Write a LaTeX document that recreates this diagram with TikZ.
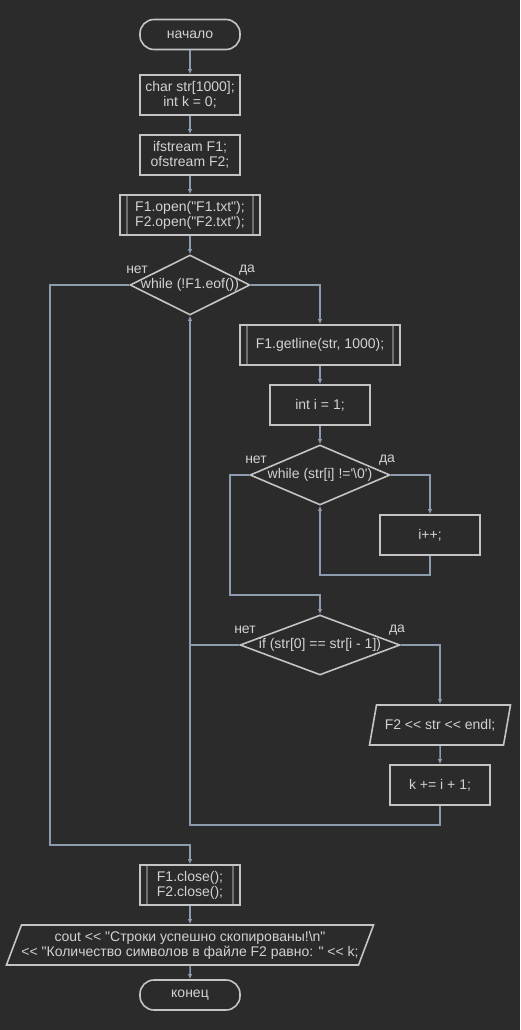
\documentclass[tikz,border=0pt]{standalone}
\usepackage{fontspec}
\setmainfont{Liberation Sans}[Ligatures=TeXOff]
\usetikzlibrary{shapes.geometric,arrows.meta}

\definecolor{bgcol}{HTML}{2B2B2B}
\definecolor{boxcol}{HTML}{C4C4C4}
\definecolor{txtcol}{HTML}{D2D2D2}
\definecolor{wirecol}{HTML}{8C9BAE}
\definecolor{sidecol}{HTML}{707070}

\tikzset{
	every node/.style={font=\fontsize{14}{15}\selectfont, text=txtcol},
	block/.style={draw=boxcol, line width=1.6pt, minimum width=100pt, minimum height=40pt, align=center, inner sep=2pt},
	termbox/.style={block, rounded corners=14pt, minimum height=30pt},
	subbox/.style={block, path picture={
		\draw[sidecol, line width=1.4pt] ([xshift=7pt]path picture bounding box.north west) -- ([xshift=7pt]path picture bounding box.south west);
		\draw[sidecol, line width=1.4pt] ([xshift=-7pt]path picture bounding box.north east) -- ([xshift=-7pt]path picture bounding box.south east);}},
	decision/.style={diamond, draw=boxcol, line width=1.6pt, minimum height=60pt, inner sep=0pt},
	iobox/.style={trapezium, trapezium left angle=63.4, trapezium right angle=116.6, trapezium stretches body,
		draw=boxcol, line width=1.6pt, minimum height=40pt, inner xsep=0pt, inner ysep=1pt, align=center},
	wire/.style={draw=wirecol, line width=1.5pt},
	flow/.style={wire, -{Latex[length=5pt,width=4.5pt]}}
}

\begin{document}
\begin{tikzpicture}[x=1pt, y=-1pt]
	\fill[bgcol] (0,0) rectangle (520,1030);
	\useasboundingbox (0,0) rectangle (520,1030);

	% main column
	\node[termbox] (start) at (190,34.5) {начало};
	\node[block] (decl) at (190,95) {char str[1000];\\int k = 0;};
	\node[block] (files) at (190,155) {ifstream F1;\\ofstream F2;};
	\node[subbox, minimum width=140pt] (open) at (190,215) {F1.open("F1.txt");\\F2.open("F2.txt");};
	\node[decision, minimum width=120pt] (loop) at (190,285) {\makebox[0pt]{while (!F1.eof())}};

	% loop body
	\node[subbox, minimum width=160pt] (getl) at (320,345) {F1.getline(str, 1000);};
	\node[block] (initI) at (320,405) {int i = 1;};
	\node[decision, minimum width=140pt] (inner) at (320,475) {\makebox[0pt]{while (str[i] !='\textbackslash 0')}};
	\node[block] (incr) at (430,535) {i++;};
	\node[decision, minimum width=160pt] (cond) at (320,645) {\makebox[0pt]{if (str[0] == str[i - 1])}};
	\node[iobox, minimum width=141pt] (out2) at (440,725) {F2 << str << endl;};
	\node[block] (kinc) at (440,785) {k += i + 1;};

	% after the loop
	\node[subbox] (close) at (190,885) {F1.close();\\F2.close();};
	\node[iobox, minimum width=362pt] (outmsg) at (190,945) {cout << "Строки успешно скопированы!\textbackslash n"\\<< "Количество символов в файле F2 равно: " << k;};
	\node[termbox] (stop) at (190,995) {конец};

	% branch labels
	\node (loopNo) at (137,270) {нет};
	\node (loopYes) at (247,270) {да};
	\node (innerNo) at (256,460) {нет};
	\node (innerYes) at (387,460) {да};
	\node (condNo) at (245,630) {нет};
	\node (condYes) at (397,630) {да};

	% bends
	\coordinate (exitL) at (50,845);
	\coordinate (incrBack) at (320,575);
	\coordinate (innerExit) at (230,595);
	\coordinate (loopBack) at (190,825);

	\draw[flow] (start) -- (decl);
	\draw[flow] (decl) -- (files);
	\draw[flow] (files) -- (open);
	\draw[flow] (open) -- (loop);
	\draw[flow] (loop.east) -| (getl.north);
	\draw[flow] (getl) -- (initI);
	\draw[flow] (initI) -- (inner);
	\draw[flow] (inner.east) -| (incr.north);
	\draw[flow] (incr.south) |- (incrBack) -- (inner.south);
	\draw[flow] (inner.west) -| (innerExit) -| (cond.north);
	\draw[wire] (cond.west) -- (cond.west -| loop.south);
	\draw[flow] (cond.east) -| (out2.north);
	\draw[flow] (out2) -- (kinc);
	\draw[flow] (kinc.south) |- (loopBack) -- (loop.south);
	\draw[flow] (loop.west) -| (exitL) -| (close.north);
	\draw[flow] (close) -- (outmsg);
	\draw[flow] (outmsg) -- (stop);
\end{tikzpicture}
\end{document}
